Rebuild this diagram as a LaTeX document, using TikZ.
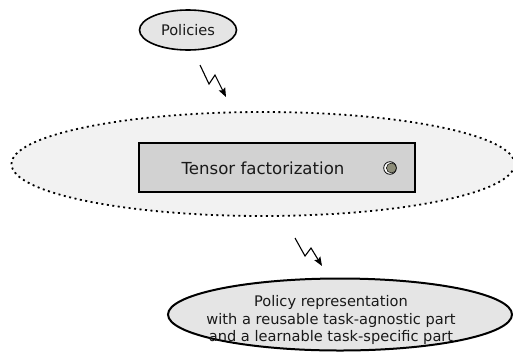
\documentclass[tikz,border=0pt]{standalone}
\usepackage{fontspec}
\setmainfont{DejaVu Sans}
\usetikzlibrary{shapes.geometric,arrows.meta}
\definecolor{gray2}{HTML}{f2f2f2}
\definecolor{gray5}{HTML}{e5e5e5}
\definecolor{gray7}{HTML}{d2d2d2}
\definecolor{olive4}{HTML}{8c8c78}

\begin{document}
\begin{tikzpicture}[x=1pt, y=-1pt, align=center,
  oval/.style={ellipse, draw, line width=1.6pt, fill=gray5, inner sep=0pt},
  zap/.style={line width=1.1pt, -{Stealth[length=9pt,width=7pt,inset=1.5pt]}},
  txt/.style={font=\fontsize{14.6}{17.2}\selectfont, text=black!90}]
\useasboundingbox (0,0) rectangle (513,354);

% top input
\node[oval, minimum width=97pt, minimum height=40pt, txt] (pol) at (188,30) {Policies};

% dotted group with the factorization block
\node[ellipse, draw, dash pattern=on 2pt off 3.5pt, line width=1.8pt, fill=gray2,
      minimum width=503pt, minimum height=104pt] (grp) at (263,164) {};
\node[draw, line width=2pt, fill=gray7, minimum width=276pt, minimum height=49pt] (tf) at (277,167.5) {};
\node[font=\fontsize{16.6}{20}\selectfont, text=black!90] (tftext) at (263,168) {Tensor factorization};
\filldraw[fill=white, line width=0.8pt] (390,168) circle (6.3pt);
\filldraw[fill=olive4, line width=0.5pt] (391.4,168) circle (5pt);

% bottom output
\node[oval, line width=2pt, minimum width=344pt, minimum height=72pt] (rep) at (340,314.5) {};
\node[txt] (reptext) at (331,320) {Policy representation\\with a reusable task-agnostic part\\and a learnable task-specific part};

% zigzag arrows
\coordinate (z1a) at (200,65);
\coordinate (z1b) at (226,97);
\draw[zap] (z1a) -- ++(9,19) -- ++(6,-9) -- (z1b);
\coordinate (z2a) at (295,238);
\coordinate (z2b) at (322,266);
\draw[zap] (z2a) -- ++(10,18) -- ++(6,-8) -- (z2b);
\end{tikzpicture}
\end{document}
